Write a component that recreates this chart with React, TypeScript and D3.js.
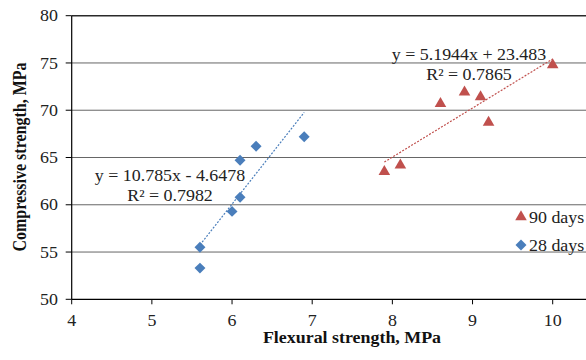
import React from "react";
import * as d3 from "d3";

// Flexural vs compressive strength at two curing ages
const flex28 = [5.6, 5.6, 6.0, 6.1, 6.1, 6.3, 6.9];
const comp28 = [53.3, 55.5, 59.3, 60.8, 64.7, 66.2, 67.2];
const flex90 = [7.9, 8.1, 8.6, 8.9, 9.1, 9.2, 10.0];
const comp90 = [63.5, 64.2, 70.7, 71.9, 71.4, 68.7, 74.8];

// Linear trend coefficients [slope, intercept] and R²
const fit28 = [10.785, -4.6478];
const fit90 = [5.1944, 23.483];
const r2_28 = "0.7982";
const r2_90 = "0.7865";

const xTicks = [4, 5, 6, 7, 8, 9, 10];
const yTicks = [50, 55, 60, 65, 70, 75, 80];
const seriesNames = ["90 days", "28 days"];

const W = 586;
const H = 360;
const BLUE = "#4A7EBB";
const RED = "#C0504D";
const FONT = "'Liberation Serif', 'Times New Roman', serif";
const SX = 1.12; // horizontal glyph stretch

type TProps = {
  x: number;
  y: number;
  anchor?: "start" | "middle" | "end";
  size?: number;
  bold?: boolean;
  dy?: string;
  children: React.ReactNode;
};

function Label({ x, y, anchor = "start", size = 16, bold = false, dy, children }: TProps) {
  return (
    <text
      transform={`translate(${x},${y}) scale(${SX},1)`}
      textAnchor={anchor}
      fontSize={size}
      fontWeight={bold ? "bold" : "normal"}
      dy={dy}
      fill={bold ? "#111" : "#222"}
    >
      {children}
    </text>
  );
}

export default function App() {
  const x = d3.scaleLinear().domain([4, 10]).range([71.7, 552.7]);
  const y = d3.scaleLinear().domain([50, 80]).range([299.3, 15.7]);

  const trend = (fit: number[], xs: number[]) => {
    const x0 = d3.min(xs)!;
    const x1 = d3.max(xs)!;
    return d3
      .line<number>()
      .x((d) => x(d))
      .y((d) => y(fit[0] * d + fit[1]))([x0, x1]) as string;
  };

  const tri = d3.symbol().type(d3.symbolTriangle).size(58)() as string;
  const dia = d3.symbol().type(d3.symbolSquare).size(60)() as string;

  const x0 = x(4);
  const yBase = y(50);

  return (
    <svg
      width={W}
      height={H}
      style={{ position: "absolute", left: 0, top: 0, background: "#fff" }}
      fontFamily={FONT}
    >
      <rect width={W} height={H} fill="#fff" />
      {/* horizontal gridlines */}
      {yTicks.slice(1).map((t) => (
        <line
          key={"g" + t}
          x1={x0}
          x2={W}
          y1={y(t)}
          y2={y(t)}
          stroke={t === 80 ? "#2a2a2a" : "#666"}
          strokeWidth={t === 80 ? 1.4 : 1}
        />
      ))}
      {/* axes */}
      <line x1={x0} x2={x0} y1={y(80)} y2={yBase} stroke="#000" strokeWidth={1.2} />
      <line x1={x0} x2={W} y1={yBase} y2={yBase} stroke="#000" strokeWidth={1.2} />
      {yTicks.map((t) => (
        <g key={"y" + t}>
          <line x1={x0 - 6} x2={x0} y1={y(t)} y2={y(t)} stroke="#000" strokeWidth={1} />
          <Label x={58} y={y(t)} dy="0.35em" anchor="end">
            {t}
          </Label>
        </g>
      ))}
      {xTicks.map((t) => (
        <g key={"x" + t}>
          <line x1={x(t)} x2={x(t)} y1={yBase} y2={yBase + 5} stroke="#000" strokeWidth={1} />
          <Label x={x(t)} y={326} anchor="middle">
            {t}
          </Label>
        </g>
      ))}
      {/* axis titles */}
      <Label x={352} y={343} anchor="middle" bold>
        Flexural strength, MPa
      </Label>
      <text
        transform={`translate(26,157) rotate(-90) scale(1,${SX})`}
        textAnchor="middle"
        fontSize={16}
        fontWeight="bold"
        fill="#111"
      >
        Compressive strength, MPa
      </text>

      {/* trend lines */}
      <path d={trend(fit28, flex28)} fill="none" stroke={BLUE} strokeWidth={1.2} strokeDasharray="2,1.5" />
      <path d={trend(fit90, flex90)} fill="none" stroke={RED} strokeWidth={1.2} strokeDasharray="2,1.5" />

      {/* markers */}
      {flex28.map((v, i) => (
        <path
          key={"d" + i}
          d={dia}
          transform={`translate(${x(v)},${y(comp28[i])}) rotate(45)`}
          fill={BLUE}
        />
      ))}
      {flex90.map((v, i) => (
        <path key={"t" + i} d={tri} transform={`translate(${x(v)},${y(comp90[i])})`} fill={RED} />
      ))}

      {/* trend equations */}
      <Label x={170} y={181} anchor="middle">{`y = ${fit28[0]}x - ${Math.abs(fit28[1])}`}</Label>
      <Label x={170} y={201} anchor="middle">{`R² = ${r2_28}`}</Label>
      <Label x={469} y={60} anchor="middle">{`y = ${fit90[0]}x + ${fit90[1]}`}</Label>
      <Label x={469} y={80} anchor="middle">{`R² = ${r2_90}`}</Label>

      {/* legend */}
      <path d={tri} transform="translate(521,217)" fill={RED} />
      <Label x={529} y={222.5}>{seriesNames[0]}</Label>
      <path d={dia} transform="translate(521,245) rotate(45)" fill={BLUE} />
      <Label x={529} y={250.5}>{seriesNames[1]}</Label>
    </svg>
  );
}
